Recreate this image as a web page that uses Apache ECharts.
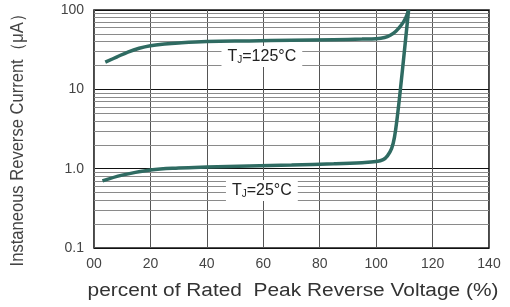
<!DOCTYPE html>
<html>
<head>
<meta charset="utf-8">
<script src="https://cdn.jsdelivr.net/npm/echarts@6/dist/echarts.min.js"></script>
<style>
  html, body { margin: 0; padding: 0; background: #fff; }
  #chart { width: 510px; height: 307px; }
</style>
</head>
<body>
<div id="chart"></div>
<script>
// percent of rated voltage vs reverse current (uA)
const hotX = [4, 8, 12, 16, 20, 25, 30, 40, 55, 70, 85, 95, 100, 103, 105, 107, 109, 110.5, 111.5];
const hotY = [22, 25.5, 29.5, 33, 35.5, 37.3, 38.5, 40, 40.8, 41.5, 42.3, 43, 43.5, 45, 48, 54, 65, 80, 100];
const coldX = [3, 10, 20, 30, 40, 55, 70, 85, 95, 100, 102.5, 104, 105.5, 106.5, 107.5, 108.6, 110, 111.5];
const coldY = [0.7, 0.83, 0.96, 1.02, 1.05, 1.08, 1.11, 1.15, 1.19, 1.23, 1.3, 1.45, 1.8, 2.5, 4.5, 10, 30, 100];
const xTicks = ['00', '20', '40', '60', '80', '100', '120', '140'];
const yTicks = { 0.1: '0.1', 1: '1.0', 10: '10', 100: '100' };
const minorLines = [0.2, 0.3, 0.4, 0.5, 0.6, 0.7, 0.8, 0.9,
  2, 3, 4, 5, 6, 7, 8, 9, 20, 30, 40, 50, 60, 70, 80, 90];

const lineColor = '#2f6b62';
const font = '"Liberation Sans", Arial, sans-serif';

function pairs(xs, ys) {
  return xs.map((x, i) => [x, ys[i]]);
}

function tempLabel(text) {
  return {
    show: true, position: 'inside',
    backgroundColor: '#fff', padding: [2, 6],
    formatter: text,
    fontSize: 16, color: '#222',
    rich: { s: { fontSize: 10, verticalAlign: 'bottom', padding: [7, 0, 0, 0] } }
  };
}

const myChart = echarts.init(document.getElementById('chart'));
myChart.setOption({
  animation: false,
  textStyle: { fontFamily: font },
  grid: {
    left: 94, right: 21, top: 10, bottom: 59,
    show: true, borderColor: '#1a1a1a', borderWidth: 1.6
  },
  // axis titles are stretched in the original, so draw them as graphic text
  graphic: [
    {
      type: 'text', x: 293, y: 291, scaleX: 1.16,
      style: {
        text: 'percent of Rated  Peak Reverse Voltage (%)',
        font: '18px "Liberation Sans", Arial, sans-serif',
        fill: '#333', align: 'center', verticalAlign: 'middle',
        textAlign: 'center', textVerticalAlign: 'middle'
      }
    },
    {
      type: 'text', x: 18, y: 136, rotation: Math.PI / 2, scaleX: 0.92,
      style: {
        text: 'Instaneous Reverse Current（μA）',
        font: '18px "Liberation Sans", Arial, sans-serif',
        fill: '#444', align: 'center', verticalAlign: 'middle',
        textAlign: 'center', textVerticalAlign: 'middle'
      }
    }
  ],
  xAxis: {
    type: 'value', min: 0, max: 140, interval: 20,
    axisLine: { show: false },
    axisTick: { show: false },
    axisLabel: {
      margin: 9, fontSize: 14, color: '#444',
      formatter: v => xTicks[Math.round(v / 20)]
    },
    splitLine: { lineStyle: { color: '#555', width: 1 } }
  },
  yAxis: {
    type: 'log', logBase: 10, min: 0.1, max: 100,
    axisLine: { show: false },
    axisTick: { show: false },
    axisLabel: {
      margin: 10, fontSize: 14, color: '#444',
      formatter: v => yTicks[v] || ''
    },
    splitLine: { lineStyle: { color: '#111', width: 1.2 } }
  },
  series: [
    {
      type: 'line',
      data: pairs(hotX, hotY),
      smooth: 0.4,
      showSymbol: false,
      lineStyle: { color: lineColor, width: 3.5 },
      z: 5,
      markLine: {
        silent: true,
        symbol: 'none',
        label: { show: false },
        lineStyle: { color: '#8a8a8a', width: 1, type: 'solid' },
        data: minorLines.map(v => ({ yAxis: v })),
        z: 1
      },
      markPoint: {
        silent: true,
        symbolSize: 0,
        data: [{ coord: [59.5, 26] }],
        label: tempLabel('T{s|J}=125°C')
      }
    },
    {
      type: 'line',
      data: pairs(coldX, coldY),
      smooth: 0.4,
      showSymbol: false,
      lineStyle: { color: lineColor, width: 3.5 },
      z: 5,
      markPoint: {
        silent: true,
        symbolSize: 0,
        data: [{ coord: [59.5, 0.53] }],
        label: tempLabel('T{s|J}=25°C')
      }
    }
  ]
});
</script>
</body>
</html>
